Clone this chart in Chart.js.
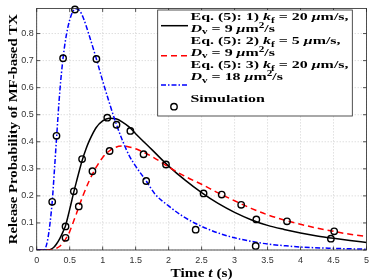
<!DOCTYPE html>
<html><head><meta charset="utf-8">
<script src="https://cdn.jsdelivr.net/npm/chart.js@4"></script>
<style>html,body{margin:0;padding:0;background:#fff}#wrap{width:374px;height:280px;position:relative}</style>
</head><body><div id="wrap"><canvas id="c" width="374" height="280"></canvas></div>
<script>
// ---- data ----
const xTicks = [0, 0.5, 1, 1.5, 2, 2.5, 3, 3.5, 4, 4.5, 5];
const yTicks = [0, 0.1, 0.2, 0.3, 0.4, 0.5, 0.6, 0.7, 0.8];
const yMax = 0.893;

// Eq.(5) 1) kf = 20 um/s, Dv = 9 um^2/s (black solid)
const tBlack = [0, 0.18, 0.22, 0.26, 0.3, 0.35, 0.4, 0.437, 0.5, 0.563, 0.6, 0.688, 0.75, 0.8, 0.9, 1.0, 1.1, 1.2, 1.3, 1.4, 1.5, 1.75, 2.0, 2.25, 2.5, 2.75, 3.0, 3.25, 3.5, 3.75, 4.0, 4.25, 4.5, 4.75, 5.0];
const pBlack = [0, 0, 0.003, 0.01, 0.022, 0.042, 0.068, 0.09, 0.15, 0.215, 0.25, 0.33, 0.375, 0.405, 0.452, 0.477, 0.487, 0.485, 0.473, 0.455, 0.43, 0.37, 0.31, 0.258, 0.212, 0.172, 0.139, 0.112, 0.091, 0.076, 0.063, 0.052, 0.043, 0.035, 0.028];

// Eq.(5) 2) kf = 5 um/s, Dv = 9 um^2/s (red dashed)
const tRed = [0, 0.22, 0.27, 0.3, 0.35, 0.4, 0.45, 0.5, 0.55, 0.6, 0.7, 0.8, 0.9, 1.0, 1.1, 1.2, 1.3, 1.4, 1.5, 1.75, 2.0, 2.25, 2.5, 2.75, 3.0, 3.25, 3.5, 3.75, 4.0, 4.25, 4.5, 4.75, 5.0];
const pRed = [0, 0, 0.002, 0.006, 0.014, 0.027, 0.045, 0.068, 0.1, 0.133, 0.2, 0.258, 0.305, 0.342, 0.366, 0.38, 0.384, 0.381, 0.374, 0.345, 0.307, 0.272, 0.243, 0.211, 0.182, 0.154, 0.13, 0.111, 0.095, 0.081, 0.069, 0.058, 0.05];

// Eq.(5) 3) kf = 20 um/s, Dv = 18 um^2/s (blue dash-dot)
const tBlue = [0, 0.1, 0.125, 0.15, 0.175, 0.2, 0.235, 0.27, 0.3, 0.35, 0.4, 0.45, 0.5, 0.55, 0.6, 0.65, 0.7, 0.8, 0.9, 1.0, 1.1, 1.2, 1.3, 1.4, 1.5, 1.66, 1.8, 2.0, 2.2, 2.4, 2.6, 2.8, 3.0, 3.25, 3.5, 3.75, 4.0, 4.5, 5.0];
const pBlue = [0, 0, 0.004, 0.02, 0.05, 0.095, 0.178, 0.3, 0.41, 0.585, 0.71, 0.795, 0.85, 0.882, 0.892, 0.885, 0.862, 0.79, 0.71, 0.625, 0.545, 0.47, 0.405, 0.35, 0.31, 0.255, 0.205, 0.163, 0.127, 0.099, 0.077, 0.059, 0.045, 0.032, 0.022, 0.016, 0.011, 0.006, 0.003];

// Simulation (circles)
const tSim = [0.235, 0.30, 0.40, 0.58, 0.905, 1.07, 1.21, 1.42, 1.66, 2.41, 3.32, 0.437, 0.563, 0.688, 1.96, 2.53, 3.33, 4.46, 0.437, 0.638, 0.845, 1.105, 1.62, 2.805, 3.10, 3.795, 4.51];
const pSim = [0.178, 0.422, 0.709, 0.889, 0.706, 0.489, 0.463, 0.440, 0.255, 0.075, 0.015, 0.087, 0.217, 0.336, 0.316, 0.209, 0.113, 0.042, 0.045, 0.161, 0.291, 0.366, 0.354, 0.205, 0.167, 0.106, 0.069];

const xTitle = [{t:'Time '},{t:'t',i:1},{t:' (s)'}];
const yTitle = [{t:'Release Probability of MF-based TX'}];
const legendRows = [
  [{t:'Eq. (5): 1) '},{t:'k',i:1},{t:'f',sub:1},{t:' = 20 '},{t:'\u03bc',i:1},{t:'m/s,'}],
  [{t:'D',i:1},{t:'v',sub:1},{t:' = 9 '},{t:'\u03bc',i:1},{t:'m'},{t:'2',sup:1},{t:'/s'}],
  [{t:'Eq. (5): 2) '},{t:'k',i:1},{t:'f',sub:1},{t:' = 5 '},{t:'\u03bc',i:1},{t:'m/s,'}],
  [{t:'D',i:1},{t:'v',sub:1},{t:' = 9 '},{t:'\u03bc',i:1},{t:'m'},{t:'2',sup:1},{t:'/s'}],
  [{t:'Eq. (5): 3) '},{t:'k',i:1},{t:'f',sub:1},{t:' = 20 '},{t:'\u03bc',i:1},{t:'m/s,'}],
  [{t:'D',i:1},{t:'v',sub:1},{t:' = 18 '},{t:'\u03bc',i:1},{t:'m'},{t:'2',sup:1},{t:'/s'}],
  [{t:'Simulation'}]
];

const pts = (ts, ps) => ts.map((t, i) => ({x: t, y: ps[i]}));
const SERIF = '"Liberation Serif", "DejaVu Serif", serif';
const AXC = '#262626';

function richWidth(ctx, segs, size){
  let w = 0;
  for (const s of segs){
    const fs = (s.sub || s.sup) ? size*0.7 : size;
    ctx.font = (s.i ? 'italic ' : '') + 'bold ' + fs + 'px ' + SERIF;
    w += ctx.measureText(s.t).width;
  }
  return w;
}
// draws rich text starting at (0, base) in current transform
function drawRich(ctx, segs, x, base, size){
  let cx = x;
  for (const s of segs){
    let fs = size, dy = 0;
    if (s.sub){ fs = size*0.7; dy = size*0.25; }
    if (s.sup){ fs = size*0.7; dy = -size*0.4; }
    ctx.font = (s.i ? 'italic ' : '') + 'bold ' + fs + 'px ' + SERIF;
    ctx.fillText(s.t, cx, base + dy);
    cx += ctx.measureText(s.t).width;
  }
}
// draw rich text with horizontal stretch so that it spans `target` px
function drawFit(ctx, segs, x, base, size, sx){
  ctx.save();
  ctx.translate(x, base);
  ctx.scale(sx, 1);
  drawRich(ctx, segs, 0, 0, size);
  ctx.restore();
}

const deco = {
  id: 'deco',
  beforeDatasetsDraw(chart){
    const {ctx, chartArea: a, scales: {x, y}} = chart;
    ctx.save();
    ctx.strokeStyle = 'rgba(0,0,0,0.28)';
    ctx.lineWidth = 0.7;
    ctx.setLineDash([1, 2]);
    xTicks.forEach(v => { const px = x.getPixelForValue(v); ctx.beginPath(); ctx.moveTo(px, a.top); ctx.lineTo(px, a.bottom); ctx.stroke(); });
    yTicks.forEach(v => { const py = y.getPixelForValue(v); ctx.beginPath(); ctx.moveTo(a.left, py); ctx.lineTo(a.right, py); ctx.stroke(); });
    ctx.restore();
  },
  afterDatasetsDraw(chart){
    const {ctx, chartArea: a, scales: {x, y}} = chart;
    ctx.save();
    // axis box and inner ticks
    ctx.strokeStyle = AXC; ctx.lineWidth = 0.8; ctx.setLineDash([]);
    ctx.strokeRect(a.left, a.top, a.right - a.left, a.bottom - a.top);
    const tl = 3.5;
    ctx.beginPath();
    xTicks.forEach(v => { const px = x.getPixelForValue(v); ctx.moveTo(px, a.bottom); ctx.lineTo(px, a.bottom - tl); ctx.moveTo(px, a.top); ctx.lineTo(px, a.top + tl); });
    yTicks.forEach(v => { const py = y.getPixelForValue(v); ctx.moveTo(a.left, py); ctx.lineTo(a.left + tl, py); ctx.moveTo(a.right, py); ctx.lineTo(a.right - tl, py); });
    ctx.stroke();

    ctx.fillStyle = '#000';
    ctx.textBaseline = 'alphabetic';
    ctx.textAlign = 'left';
    // x title (size 12.5, stretched to 62 px)
    const xs = 12.5, xw = richWidth(ctx, xTitle, xs), xsx = 62 / xw;
    drawFit(ctx, xTitle, (a.left + a.right)/2 - 31, 276.5, xs, xsx);
    // y title (size 13, stretched to 230 px)
    const ys = 13, yw = richWidth(ctx, yTitle, ys), ysx = 230 / yw;
    ctx.save();
    ctx.translate(16.5, (a.top + a.bottom)/2);
    ctx.rotate(-Math.PI/2);
    drawFit(ctx, yTitle, -115, 0, ys, ysx);
    ctx.restore();

    // legend box
    const bx = 157.7, by = 10, bw = 352.3 - 157.7, bh = 116 - 10;
    ctx.fillStyle = '#fff';
    ctx.fillRect(bx, by, bw, bh);
    ctx.strokeStyle = AXC; ctx.lineWidth = 0.8;
    ctx.strokeRect(bx, by, bw, bh);
    // samples
    const sx0 = 161, sx1 = 188;
    const samples = [
      {y: 25.7, c: '#000000', d: []},
      {y: 55.7, c: '#ff0000', d: [6, 4]},
      {y: 85, c: '#0000ff', d: [5, 2, 1.5, 2]}
    ];
    samples.forEach(sm => {
      ctx.strokeStyle = sm.c; ctx.lineWidth = 1.5; ctx.setLineDash(sm.d);
      ctx.beginPath(); ctx.moveTo(sx0, sm.y); ctx.lineTo(sx1, sm.y); ctx.stroke();
    });
    ctx.setLineDash([]);
    ctx.strokeStyle = '#000'; ctx.lineWidth = 1.4;
    ctx.beginPath(); ctx.arc(174, 106.7, 3.2, 0, Math.PI*2); ctx.stroke();
    // legend text (size 10.5, stretched so row 1 spans 158 px)
    ctx.fillStyle = '#000';
    const ls = 10.5, lw = richWidth(ctx, legendRows[0], ls), lsx = 158 / lw;
    const centers = [16.5, 28.3, 40.7, 52.3, 65, 77, 98.3];
    legendRows.forEach((row, i) => drawFit(ctx, row, 190.5, centers[i] + ls*0.33, ls, lsx));
    ctx.restore();
  }
};

new Chart(document.getElementById('c'), {
  type: 'line',
  data: {
    datasets: [
      {label: 'Simulation', data: pts(tSim, pSim), showLine: false, pointRadius: 3.2, pointHoverRadius: 3.2,
       pointBorderWidth: 1.4, pointBorderColor: '#000', pointBackgroundColor: 'rgba(0,0,0,0)', borderColor: '#000', order: 0, clip: false},
      {label: 'Eq3', data: pts(tBlue, pBlue), borderColor: '#0000ff', borderWidth: 1.5, borderDash: [5, 2, 1.5, 2],
       pointRadius: 0, cubicInterpolationMode: 'monotone', fill: false, order: 1},
      {label: 'Eq2', data: pts(tRed, pRed), borderColor: '#ff0000', borderWidth: 1.5, borderDash: [6, 4],
       pointRadius: 0, cubicInterpolationMode: 'monotone', fill: false, order: 2},
      {label: 'Eq1', data: pts(tBlack, pBlack), borderColor: '#000000', borderWidth: 1.5,
       pointRadius: 0, cubicInterpolationMode: 'monotone', fill: false, order: 3}
    ]
  },
  options: {
    responsive: false, animation: false, devicePixelRatio: 1,
    layout: {padding: {top: 4.7, right: 5.7, left: 0, bottom: 0}},
    plugins: {legend: {display: false}, tooltip: {enabled: false}},
    scales: {
      x: {type: 'linear', min: 0, max: 5,
          afterBuildTicks: sc => { sc.ticks = xTicks.map(v => ({value: v})); },
          afterFit: sc => { sc.height = 30; },
          grid: {display: false, drawTicks: false}, border: {display: false},
          ticks: {padding: 5, font: {family: '"Liberation Sans", Arial, sans-serif', size: 9}, color: '#333',
                  maxRotation: 0, autoSkip: false, callback: v => String(v)}},
      y: {type: 'linear', min: 0, max: yMax,
          afterBuildTicks: sc => { sc.ticks = yTicks.map(v => ({value: v})); },
          afterFit: sc => { sc.width = 36.7; },
          grid: {display: false, drawTicks: false}, border: {display: false},
          ticks: {padding: 3, font: {family: '"Liberation Sans", Arial, sans-serif', size: 9}, color: '#333',
                  autoSkip: false, callback: v => String(Math.round(v*10)/10)}}
    }
  },
  plugins: [deco]
});
</script>
</body></html>
